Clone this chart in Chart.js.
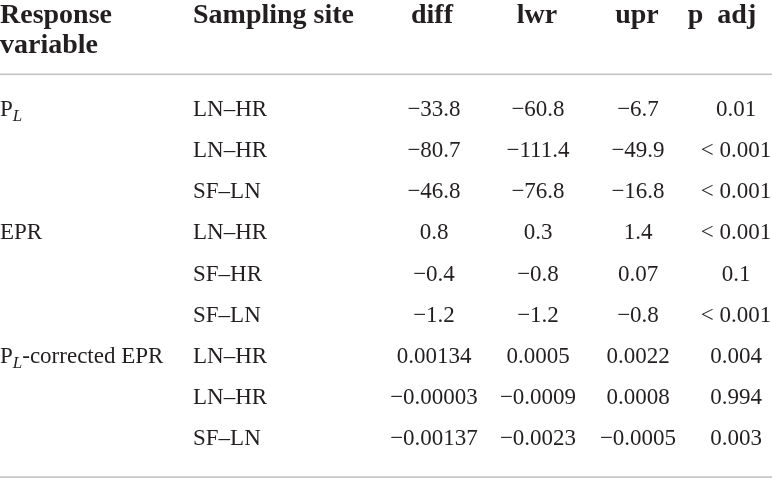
<!DOCTYPE html>
<html>
<head>
<meta charset="utf-8">
<script src="https://cdn.jsdelivr.net/npm/chart.js@4.4.1/dist/chart.umd.min.js"></script>
<style>
    html, body { margin: 0; padding: 0; background: #ffffff; }
    #wrap { width: 772px; height: 478px; position: relative; }
</style>
</head>
<body>
<div id="wrap"><canvas id="tukeyTable"></canvas></div>
<script>
// 표 데이터 (행 단위)
const headers = ['Response|variable', 'Sampling site', 'diff', 'lwr', 'upr', 'p  adj'];
const responseVars = ['P_L', '', '', 'EPR', '', '', 'P_L-corrected EPR', '', ''];
const sites = ['LN–HR', 'LN–HR', 'SF–LN', 'LN–HR', 'SF–HR', 'SF–LN', 'LN–HR', 'LN–HR', 'SF–LN'];
const diffs = ['−33.8', '−80.7', '−46.8', '0.8', '−0.4', '−1.2', '0.00134', '−0.00003', '−0.00137'];
const lowers = ['−60.8', '−111.4', '−76.8', '0.3', '−0.8', '−1.2', '0.0005', '−0.0009', '−0.0023'];
const uppers = ['−6.7', '−49.9', '−16.8', '1.4', '0.07', '−0.8', '0.0022', '0.0008', '−0.0005'];
const pAdj = ['0.01', '< 0.001', '< 0.001', '< 0.001', '0.1', '< 0.001', '0.004', '0.994', '0.003'];

const rowKeys = sites.map((s, i) => 'r' + i);
const columns = [responseVars, sites, diffs, lowers, uppers, pAdj];

// 열 위치 (x축 값) 및 정렬
const colX = [0, 193, 434, 538, 638, 736];
const headX = [0, 193, 432, 537, 637, 722];
const colAlign = ['left', 'left', 'center', 'center', 'center', 'center'];

const FONT = '"Liberation Serif", "DejaVu Serif", serif';
const INK = '#231f20';
const RULE = '#c4c4c4';

// 아래첨자 L 처리 (P_L)
function drawRich(ctx, text, x, y, size, align) {
    const parts = [];
    if (text.indexOf('P_L') === 0) {
        parts.push({ t: 'P', italic: false, sub: false });
        parts.push({ t: 'L', italic: true, sub: true });
        if (text.length > 3) parts.push({ t: text.slice(3), italic: false, sub: false });
    } else {
        parts.push({ t: text, italic: false, sub: false });
    }
    const subSize = Math.round(size * 0.72);
    let total = 0;
    parts.forEach(p => {
        ctx.font = (p.italic ? 'italic ' : '') + (p.sub ? subSize : size) + 'px ' + FONT;
        p.w = ctx.measureText(p.t).width;
        total += p.w;
    });
    let cx = align === 'center' ? x - total / 2 : x;
    ctx.textAlign = 'left';
    parts.forEach(p => {
        ctx.font = (p.italic ? 'italic ' : '') + (p.sub ? subSize : size) + 'px ' + FONT;
        ctx.fillText(p.t, cx, p.sub ? y + size * 0.28 : y);
        cx += p.w;
    });
}

const tablePlugin = {
    id: 'tablePlugin',
    afterDatasetsDraw(chart) {
        const ctx = chart.ctx;
        const xs = chart.scales.x;
        const ys = chart.scales.y;
        const area = chart.chartArea;
        ctx.save();
        ctx.fillStyle = INK;
        ctx.textBaseline = 'middle';

        // 헤더
        headers.forEach((h, c) => {
            const lines = h.split('|');
            ctx.font = 'bold 28px ' + FONT;
            ctx.textAlign = colAlign[c];
            lines.forEach((ln, k) => {
                ctx.fillText(ln, xs.getPixelForValue(headX[c]), 16 + k * 30);
            });
        });

        // 구분선
        ctx.fillStyle = RULE;
        ctx.fillRect(area.left, 73.5, area.right - area.left, 1.6);
        ctx.fillRect(area.left, 476.3, area.right - area.left, 1.8);

        // 셀
        ctx.fillStyle = INK;
        columns.forEach((col, c) => {
            col.forEach((val, r) => {
                if (!val) return;
                const px = xs.getPixelForValue(colX[c]);
                const py = ys.getPixelForValue(r);
                drawRich(ctx, val, px, py, 23, colAlign[c]);
            });
        });
        ctx.restore();
    }
};

new Chart(document.getElementById('tukeyTable'), {
    type: 'scatter',
    data: {
        labels: rowKeys,
        datasets: [{
            data: sites.map((s, i) => ({ x: colX[1], y: rowKeys[i] })),
            pointRadius: 0,
            showLine: false
        }]
    },
    options: {
        responsive: true,
        maintainAspectRatio: false,
        animation: false,
        events: [],
        layout: { padding: { top: 89, bottom: 18, left: 0, right: 0 } },
        plugins: { legend: { display: false }, tooltip: { enabled: false } },
        scales: {
            x: { type: 'linear', min: 0, max: 772, display: false },
            y: { type: 'category', labels: rowKeys, offset: true, display: false }
        }
    },
    plugins: [tablePlugin]
});
</script>
</body>
</html>
